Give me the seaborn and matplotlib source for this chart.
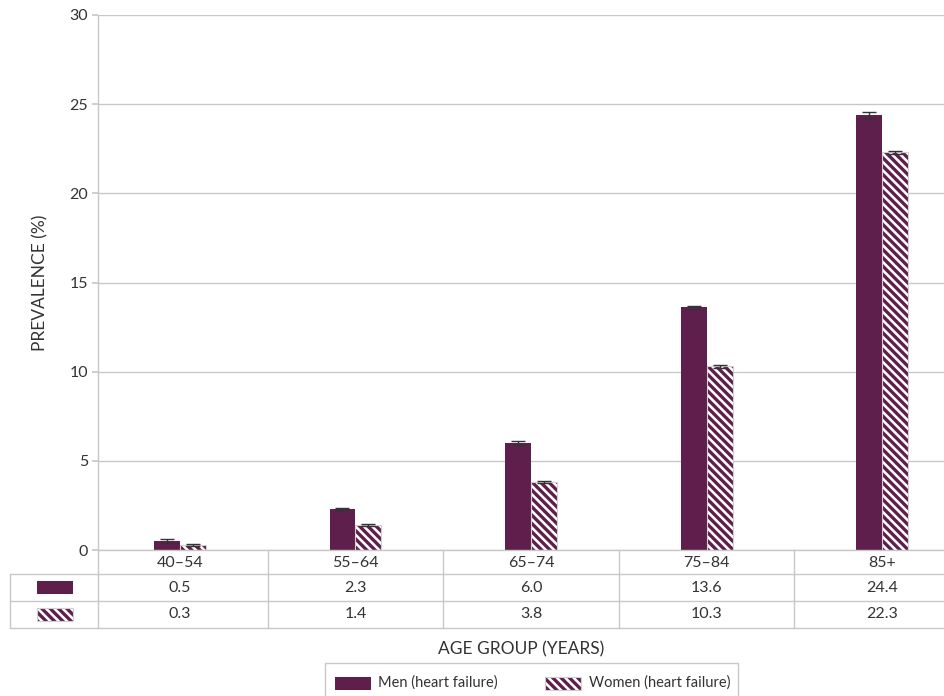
import matplotlib
matplotlib.use("Agg")
import matplotlib.pyplot as plt
import matplotlib.transforms as mtrans
from matplotlib.patches import Rectangle
from matplotlib.lines import Line2D
import seaborn as sns
import pandas as pd

# ---------------- data ----------------
age_groups = ["40–54", "55–64", "65–74", "75–84", "85+"]
men = [0.5, 2.3, 6.0, 13.6, 24.4]
women = [0.3, 1.4, 3.8, 10.3, 22.3]
men_err = [0.1, 0.08, 0.1, 0.1, 0.15]
women_err = [0.06, 0.05, 0.05, 0.1, 0.08]
series = ["Men (heart failure)", "Women (heart failure)"]
y_ticks = [0, 5, 10, 15, 20, 25, 30]
x_title = "AGE GROUP (YEARS)"
y_title = "PREVALENCE (%)"

# ---------------- style ----------------
PURPLE = "#5f1f4d"
GRID = "#c8c8c8"
TEXT = "#333333"
HATCH = "\\\\\\\\"

sns.set_theme(style="white")
plt.rcParams["font.family"] = ["Lato", "DejaVu Sans"]
plt.rcParams["hatch.linewidth"] = 2.4

W, H = 944, 696
fig = plt.figure(figsize=(W / 100, H / 100), dpi=100)
L, R, T, B = 98, 944, 15, 550
ax = fig.add_axes([L / W, 1 - B / H, (R - L) / W, (B - T) / H])

df = pd.DataFrame({
    "age": age_groups * 2,
    "value": men + women,
    "sex": [series[0]] * len(men) + [series[1]] * len(women),
})

sns.barplot(data=df, x="age", y="value", hue="sex", order=age_groups,
            hue_order=series, palette=[PURPLE, "white"], width=0.296, gap=0,
            errorbar=None, legend=False, saturation=1, ax=ax)

for p in ax.containers[0]:
    p.set_linewidth(0)
    p.set_facecolor(PURPLE)
for p in ax.containers[1]:
    p.set_facecolor("white")
    p.set_edgecolor(PURPLE)
    p.set_hatch(HATCH)
    p.set_linewidth(0)
    ax.add_patch(Rectangle((p.get_x(), p.get_y()), p.get_width(), p.get_height(),
                           fill=False, edgecolor="#d0d0d0", lw=0.8, zorder=p.get_zorder() + 0.1))

# error bars
for cont, vals, errs in [(ax.containers[0], men, men_err), (ax.containers[1], women, women_err)]:
    xs = [p.get_x() + p.get_width() / 2 for p in cont]
    ax.errorbar(xs, vals, yerr=errs, fmt="none", ecolor="#333333",
                elinewidth=1, capsize=5, capthick=1, zorder=5)

ax.set_xlim(-0.467, 4.353)
ax.set_ylim(0, 30)
ax.set_yticks(y_ticks)
ax.set_yticklabels([str(t) for t in y_ticks])
ax.yaxis.grid(True, color=GRID, lw=1)
ax.set_axisbelow(True)
for s in ["top", "right"]:
    ax.spines[s].set_visible(False)
for s in ["left", "bottom"]:
    ax.spines[s].set_color(GRID)
    ax.spines[s].set_linewidth(1)
ax.tick_params(axis="y", left=True, length=4, color=GRID, labelsize=11.5,
               labelcolor=TEXT, pad=3)
ax.tick_params(axis="x", bottom=False, length=0, labelsize=11.5,
               labelcolor=TEXT, pad=4)
ax.set_xlabel("")
ax.set_ylabel(y_title, fontsize=12.5, color=TEXT)
ax.yaxis.set_label_coords(-0.059, 0.5)

# ---------------- data table ----------------
blend = mtrans.blended_transform_factory(ax.transData, fig.transFigure)
fy = lambda px: 1 - px / H
fx = lambda px: px / W

line_kw = dict(color=GRID, lw=1, transform=fig.transFigure, clip_on=False)
for ypx in [574, 601, 628]:
    fig.add_artist(Line2D([fx(10), fx(944)], [fy(ypx), fy(ypx)], **line_kw))
fig.add_artist(Line2D([fx(10), fx(10)], [fy(574), fy(628)], **line_kw))
fig.add_artist(Line2D([fx(98), fx(98)], [fy(550), fy(628)], **line_kw))
for i in range(len(age_groups) - 1):
    fig.add_artist(Line2D([i + 0.5, i + 0.5], [fy(550), fy(628)], color=GRID, lw=1,
                          transform=blend, clip_on=False))

for i, (m, w) in enumerate(zip(men, women)):
    fig.text(i, fy(587.5), f"{m:.1f}", transform=blend, ha="center",
             va="center", fontsize=11.5, color=TEXT)
    fig.text(i, fy(614.5), f"{w:.1f}", transform=blend, ha="center",
             va="center", fontsize=11.5, color=TEXT)


def swatch(x, y, hatched):
    if hatched:
        fig.add_artist(Rectangle((fx(x), fy(y + 13)), 36 / W, 13 / H, transform=fig.transFigure,
                                 facecolor="white", edgecolor=PURPLE, hatch=HATCH, lw=0))
        fig.add_artist(Rectangle((fx(x), fy(y + 13)), 36 / W, 13 / H, transform=fig.transFigure,
                                 fill=False, edgecolor="#d0d0d0", lw=0.8))
    else:
        fig.add_artist(Rectangle((fx(x), fy(y + 13)), 36 / W, 13 / H, transform=fig.transFigure,
                                 facecolor=PURPLE, lw=0))


swatch(37, 581, False)
swatch(37, 608, True)

# ---------------- x title ----------------
fig.text(fx(521), fy(649), x_title, ha="center", va="center", fontsize=12.5, color=TEXT)

# ---------------- legend ----------------
fig.add_artist(Rectangle((fx(325), fy(705)), 413 / W, 42 / H, transform=fig.transFigure,
                         facecolor="white", edgecolor=GRID, lw=1, clip_on=False))
swatch(335, 677, False)
fig.text(fx(378), fy(683), series[0], ha="left", va="center", fontsize=10.5, color=TEXT)
swatch(545, 677, True)
fig.text(fx(589), fy(683), series[1], ha="left", va="center", fontsize=10.5, color=TEXT)

fig.savefig("out.png", dpi=100)
